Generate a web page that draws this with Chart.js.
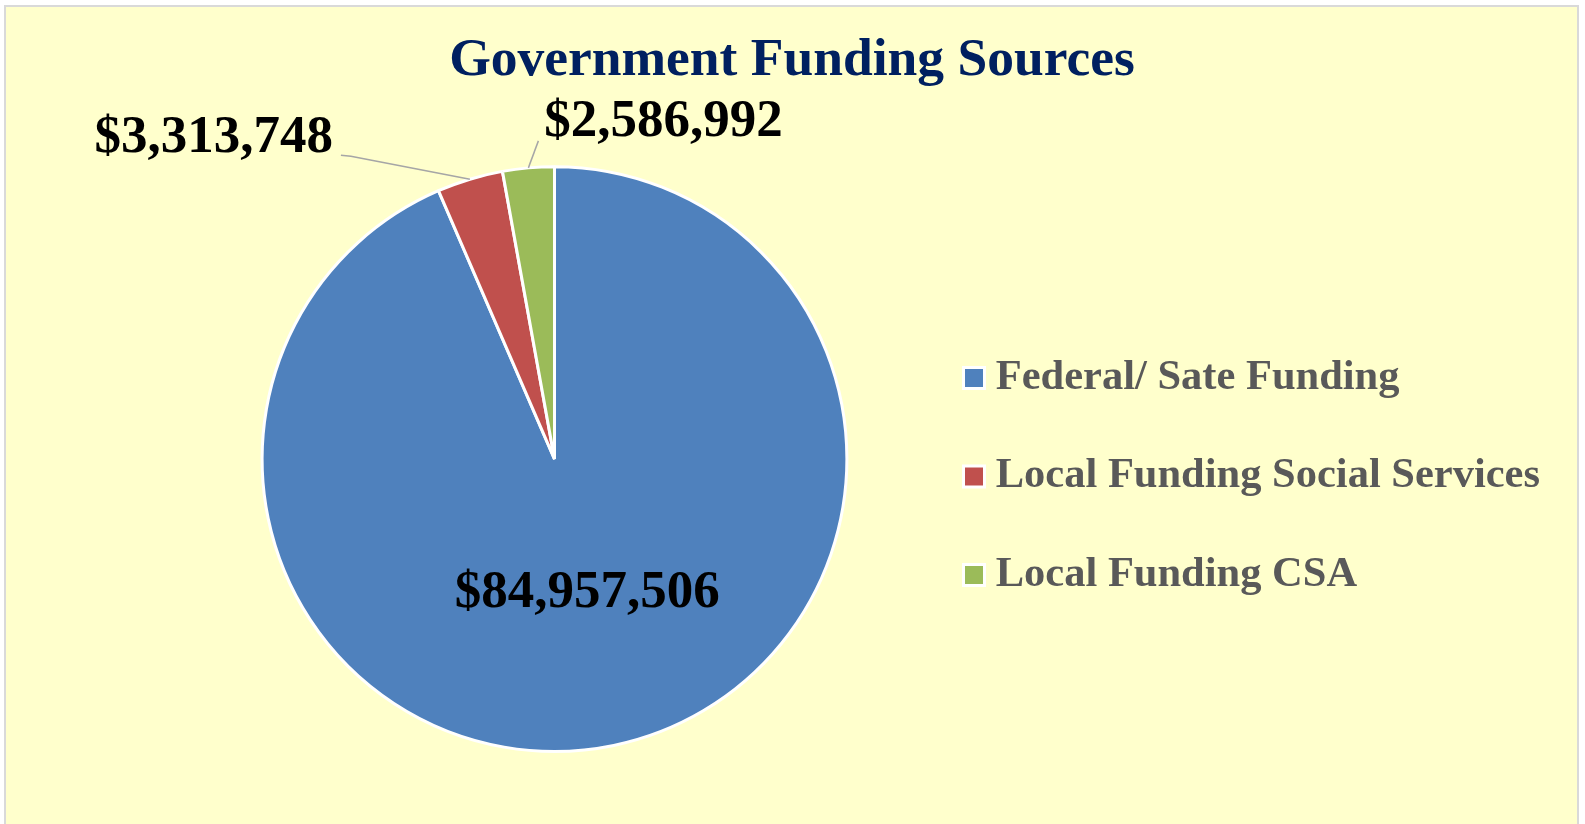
<!DOCTYPE html>
<html>
<head>
<meta charset="utf-8">
<title>Government Funding Sources</title>
<script src="https://cdn.jsdelivr.net/npm/chart.js@4"></script>
<style>
  html, body { margin: 0; padding: 0; background: #ffffff; overflow: hidden; }
  #panel {
    position: absolute; left: 4px; top: 5px; width: 1575px; height: 840px;
    background: #ffffcc; border: 2px solid #d9d9d9; box-sizing: border-box;
  }
  #chart { position: absolute; left: 0; top: 0; }
</style>
</head>
<body>
<div id="panel"></div>
<canvas id="chart" width="1585" height="824"></canvas>
<script>
// Funding sources and amounts (US dollars)
const categories = ['Federal/ Sate Funding', 'Local Funding Social Services', 'Local Funding CSA'];
const amounts = [84957506, 3313748, 2586992];
const sliceColors = ['#4f81bd', '#c0504d', '#9bbb59'];

const SERIF = "'Liberation Serif', 'Times New Roman', Times, serif";

// Where each value label sits relative to its slice
const labelLayout = [
  { mode: 'inside', radiusFactor: 0.47, nudge: [5, 0] },
  { mode: 'outside', align: 'right', text: [-137, -41], leader: [[-119, -23], [-129, -24]] },
  { mode: 'outside', align: 'left', text: [16, -46], leader: [[10, -27]] }
];

const fmtMoney = v => '$' + v.toLocaleString('en-US');

const valueLabels = {
  id: 'valueLabels',
  afterDatasetsDraw(chart) {
    const ctx = chart.ctx;
    const meta = chart.getDatasetMeta(0);
    const values = chart.data.datasets[0].data;
    ctx.save();
    ctx.font = 'bold 53px ' + SERIF;
    ctx.fillStyle = '#000000';
    ctx.textBaseline = 'middle';
    meta.data.forEach((arc, i) => {
      const p = arc.getProps(['x', 'y', 'startAngle', 'endAngle', 'outerRadius'], true);
      const mid = (p.startAngle + p.endAngle) / 2;
      const cfg = labelLayout[i];
      const text = fmtMoney(values[i]);
      if (cfg.mode === 'inside') {
        const r = p.outerRadius * cfg.radiusFactor;
        ctx.textAlign = 'center';
        ctx.fillText(text, p.x + Math.cos(mid) * r + cfg.nudge[0], p.y + Math.sin(mid) * r + cfg.nudge[1]);
      } else {
        const ex = p.x + Math.cos(mid) * p.outerRadius;
        const ey = p.y + Math.sin(mid) * p.outerRadius;
        ctx.beginPath();
        ctx.moveTo(ex, ey);
        cfg.leader.forEach(([dx, dy]) => ctx.lineTo(ex + dx, ey + dy));
        ctx.strokeStyle = '#a6a6a6';
        ctx.lineWidth = 1.5;
        ctx.stroke();
        ctx.textAlign = cfg.align;
        ctx.fillText(text, ex + cfg.text[0], ey + cfg.text[1]);
      }
    });
    ctx.restore();
  }
};

new Chart(document.getElementById('chart'), {
  type: 'pie',
  data: {
    labels: categories,
    datasets: [{
      data: amounts,
      backgroundColor: sliceColors,
      borderColor: '#ffffff',
      borderWidth: 3,
      hoverOffset: 0,
      hoverBorderWidth: 3
    }]
  },
  options: {
    responsive: false,
    animation: false,
    layout: { padding: { top: 0, left: 34, right: 35, bottom: 71 } },
    plugins: {
      title: {
        display: true,
        text: 'Government Funding Sources',
        color: '#002060',
        font: { family: SERIF, size: 53.5, weight: 'bold' },
        padding: { top: 29, bottom: 72 }
      },
      // empty left-hand box that keeps the pie clear of the left edge
      subtitle: {
        display: true,
        position: 'left',
        fullSize: false,
        text: '',
        font: { size: 10 },
        padding: { top: 0, bottom: 145.5 }
      },
      legend: {
        display: true,
        position: 'right',
        fullSize: false,
        maxWidth: 720,
        title: { display: true, text: '', font: { size: 29 }, padding: 0 },
        labels: {
          color: '#595959',
          font: { family: SERIF, size: 42.5, weight: 'bold' },
          usePointStyle: true,
          pointStyle: 'rect',
          boxWidth: 1,
          boxHeight: 21,
          padding: 56
        }
      },
      tooltip: { enabled: false }
    }
  },
  plugins: [valueLabels]
});
</script>
</body>
</html>
